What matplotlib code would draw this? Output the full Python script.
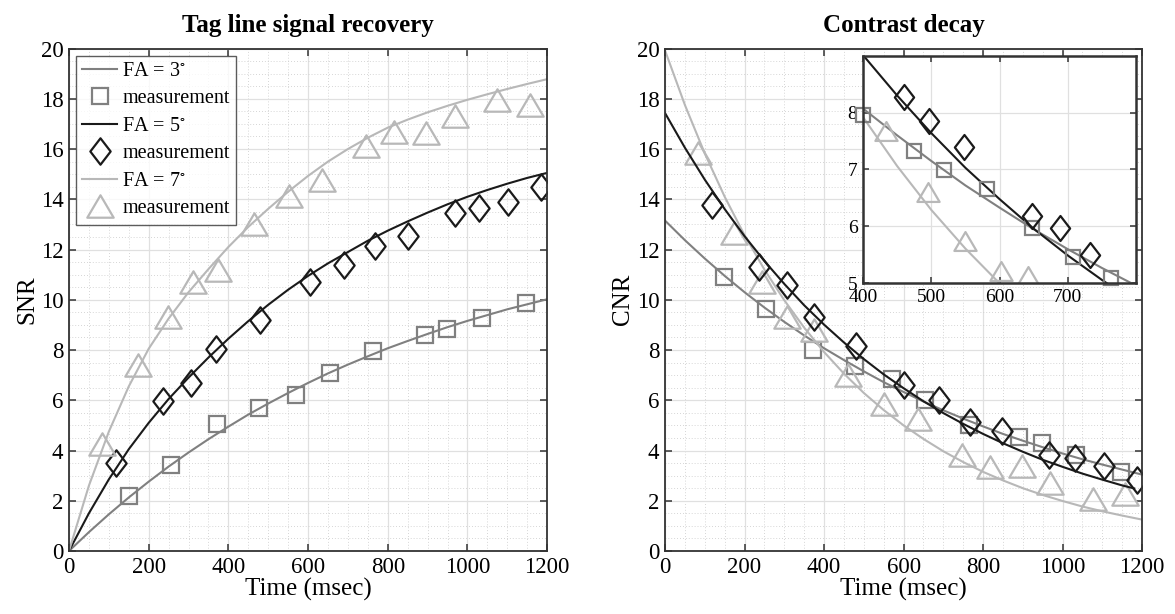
import matplotlib
matplotlib.use("Agg")
import matplotlib.pyplot as plt
from matplotlib.path import Path
from matplotlib.ticker import MultipleLocator

plt.rcParams["font.family"] = ["Liberation Serif", "DejaVu Serif"]
plt.rcParams["mathtext.fontset"] = "stix"

# ---- fitted curves (every 50 msec) ----
t_fit = [0, 50, 100, 150, 200, 250, 300, 350, 400, 450, 500, 550, 600,
         650, 700, 750, 800, 850, 900, 950, 1000, 1050, 1100, 1150, 1200]

snr_fit_fa3 = [0, 0.75, 1.46, 2.13, 2.76, 3.36, 3.92, 4.45, 4.95, 5.43, 5.87, 6.29, 6.69,
               7.07, 7.42, 7.75, 8.07, 8.36, 8.64, 8.91, 9.16, 9.39, 9.62, 9.82, 10.02]
snr_fit_fa5 = [0, 1.5, 2.85, 4.05, 5.1, 6.05, 6.9, 7.7, 8.45, 9.15, 9.8, 10.4, 10.95,
               11.45, 11.9, 12.35, 12.75, 13.12, 13.47, 13.8, 14.1, 14.37, 14.62, 14.85, 15.05]
snr_fit_fa7 = [0, 2.6, 4.75, 6.55, 8.05, 9.25, 10.3, 11.22, 12.1, 12.9, 13.62, 14.3, 14.93,
               15.5, 16.0, 16.45, 16.85, 17.17, 17.46, 17.72, 17.96, 18.18, 18.39, 18.59, 18.78]

cnr_fit_fa3 = [13.15, 12.37, 11.64, 10.95, 10.30, 9.69, 9.12, 8.58, 8.07, 7.60, 7.15, 6.72, 6.33,
               5.95, 5.60, 5.27, 4.96, 4.66, 4.39, 4.13, 3.88, 3.65, 3.44, 3.24, 3.04]
t_fit_fa5 = [0, 50, 100, 150, 200, 250, 300, 350, 400, 450, 500, 550, 600,
             650, 700, 750, 800, 850, 900, 950, 1000, 1050, 1100, 1150, 1180]
cnr_fit_fa5 = [17.43, 16.05, 14.78, 13.61, 12.53, 11.54, 10.63, 9.78, 9.01, 8.30, 7.64, 7.03, 6.48,
               5.96, 5.49, 5.06, 4.66, 4.29, 3.95, 3.63, 3.35, 3.08, 2.84, 2.61, 2.49]
cnr_fit_fa7 = [19.92, 17.75, 15.82, 14.10, 12.57, 11.20, 9.98, 8.89, 7.92, 7.06, 6.29, 5.61, 5.00,
               4.46, 3.97, 3.54, 3.15, 2.81, 2.50, 2.23, 1.99, 1.77, 1.58, 1.41, 1.25]

# ---- measurements, left panel (SNR) ----
snr_t_fa3 = [151, 257, 371, 478, 570, 655, 764, 893, 948, 1037, 1148]
snr_fa3 = [2.17, 3.41, 5.07, 5.71, 6.2, 7.09, 7.97, 8.61, 8.84, 9.29, 9.87]
snr_t_fa5 = [118, 236, 307, 370, 479, 604, 689, 767, 850, 968, 1030, 1102, 1185]
snr_fa5 = [3.5, 5.98, 6.7, 8.03, 9.18, 10.7, 11.4, 12.15, 12.55, 13.47, 13.67, 13.9, 14.48]
snr_t_fa7 = [84, 173, 248, 311, 374, 465, 551, 634, 745, 816, 897, 968, 1075, 1156]
snr_fa7 = [4.27, 7.4, 9.3, 10.7, 11.2, 13.02, 14.13, 14.75, 16.13, 16.68, 16.62, 17.3, 17.97, 17.75]

# ---- measurements, right panel (CNR) ----
cnr_t_fa3 = [149, 255, 371, 477, 570, 653, 764, 891, 948, 1033, 1147]
cnr_fa3 = [10.92, 9.63, 8.0, 7.37, 6.86, 6.0, 5.03, 4.52, 4.28, 3.81, 3.16]
cnr_t_fa5 = [119, 236, 308, 374, 481, 602, 688, 767, 848, 967, 1032, 1104, 1186]
cnr_fa5 = [13.77, 11.3, 10.6, 9.3, 8.15, 6.6, 6.0, 5.13, 4.78, 3.83, 3.69, 3.4, 2.81]
cnr_t_fa7 = [84, 174, 245, 306, 375, 460, 551, 637, 748, 818, 897, 968, 1076, 1156]
cnr_fa7 = [15.85, 12.65, 10.7, 9.3, 8.8, 7.02, 5.85, 5.27, 3.84, 3.33, 3.37, 2.72, 2.05, 2.28]

# ---- inset measurements ----
ins_t_fa3 = [400, 475, 519, 581, 647, 708, 764]
ins_fa3 = [7.96, 7.33, 6.99, 6.65, 5.98, 5.47, 5.09]
ins_t_fa5 = [460, 497, 548, 647, 688, 733]
ins_fa5 = [8.27, 7.85, 7.40, 6.19, 5.97, 5.49]
ins_t_fa7 = [433, 495, 550, 602, 642]
ins_fa7 = [7.68, 6.60, 5.74, 5.22, 5.13]

c3 = "#808080"
c5 = "#1a1a1a"
c7 = "#b8b8b8"
frame = "#333333"

diamond = Path([(0, 1), (0.77, 0), (0, -1), (-0.77, 0), (0, 1)], closed=True)
triangle = Path([(0, 0.85), (1, -0.85), (-1, -0.85), (0, 0.85)], closed=True)


def style_axes(ax, minor=True):
    ax.set_facecolor("white")
    for s in ax.spines.values():
        s.set_color(frame)
        s.set_linewidth(1.3)
    ax.tick_params(which="major", direction="in", top=True, right=True,
                   length=5, width=1.1, color=frame, labelsize=16.5, pad=4)
    ax.tick_params(which="minor", length=0)
    ax.grid(True, which="major", color="#e0e0e0", linewidth=0.9, linestyle="-")
    if minor:
        ax.grid(True, which="minor", color="#c8c8c8", linewidth=0.6, linestyle=(0, (1, 2.5)))
    ax.set_axisbelow(True)


fig = plt.figure(figsize=(11.75, 6.14), dpi=100)
fig.patch.set_facecolor("white")

ax1 = fig.add_axes([0.0587, 0.1026, 0.407, 0.8184])
ax2 = fig.add_axes([0.566, 0.1026, 0.406, 0.8184])

for ax in (ax1, ax2):
    ax.set_xlim(0, 1200)
    ax.set_ylim(0, 20)
    ax.xaxis.set_major_locator(MultipleLocator(200))
    ax.xaxis.set_minor_locator(MultipleLocator(50))
    ax.yaxis.set_major_locator(MultipleLocator(2))
    ax.yaxis.set_minor_locator(MultipleLocator(0.5))
    style_axes(ax)
    ax.set_xlabel("Time (msec)", fontsize=18, labelpad=0)

mk = dict(linestyle="none", markerfacecolor="none")

# left panel
ax1.plot(t_fit, snr_fit_fa3, color=c3, lw=1.5, label="FA = 3$^{\\circ}$")
ax1.plot(snr_t_fa3, snr_fa3, marker="s", ms=11.5, mec=c3, mew=1.6, label="measurement", **mk)
ax1.plot(t_fit, snr_fit_fa5, color=c5, lw=1.5, label="FA = 5$^{\\circ}$")
ax1.plot(snr_t_fa5, snr_fa5, marker=diamond, ms=19, mec=c5, mew=1.6, label="measurement", **mk)
ax1.plot(t_fit, snr_fit_fa7, color=c7, lw=1.5, label="FA = 7$^{\\circ}$")
ax1.plot(snr_t_fa7, snr_fa7, marker=triangle, ms=19, mec=c7, mew=1.6, label="measurement", **mk)
ax1.set_ylabel("SNR", fontsize=18, labelpad=2)
ax1.set_title("Tag line signal recovery", fontsize=18, fontweight="bold", pad=12)
leg = ax1.legend(loc="upper left", fontsize=14.5, frameon=True, fancybox=False,
                 handlelength=1.75, handletextpad=0.25, labelspacing=0.42,
                 borderpad=0.3, borderaxespad=0.35)
leg.get_frame().set_edgecolor(frame)
leg.get_frame().set_linewidth(1.0)

# right panel
ax2.plot(t_fit, cnr_fit_fa3, color=c3, lw=1.5)
ax2.plot(cnr_t_fa3, cnr_fa3, marker="s", ms=11.5, mec=c3, mew=1.6, **mk)
ax2.plot(t_fit, cnr_fit_fa7, color=c7, lw=1.5)
ax2.plot(cnr_t_fa7, cnr_fa7, marker=triangle, ms=19, mec=c7, mew=1.6, **mk)
ax2.plot(t_fit_fa5, cnr_fit_fa5, color=c5, lw=1.5)
ax2.plot(cnr_t_fa5, cnr_fa5, marker=diamond, ms=19, mec=c5, mew=1.6, **mk)
ax2.set_ylabel("CNR", fontsize=18, labelpad=2)
ax2.set_title("Contrast decay", fontsize=18, fontweight="bold", pad=12)

# inset
ax3 = fig.add_axes([0.7345, 0.5386, 0.2323, 0.3707])
ax3.set_xlim(400, 800)
ax3.set_ylim(5, 9)
ax3.set_xticks([400, 500, 600, 700])
ax3.set_yticks([5, 6, 7, 8])
style_axes(ax3, minor=False)
ax3.tick_params(which="major", labelsize=14, pad=4, length=4)
for s in ax3.spines.values():
    s.set_linewidth(1.8)
ax3.plot(t_fit, cnr_fit_fa3, color=c3, lw=1.5)
ax3.plot(t_fit, cnr_fit_fa7, color=c7, lw=1.5)
ax3.plot(t_fit_fa5, cnr_fit_fa5, color=c5, lw=1.5)
ax3.plot(ins_t_fa3, ins_fa3, marker="s", ms=10, mec=c3, mew=1.6, clip_on=False, **mk)
ax3.plot(ins_t_fa7, ins_fa7, marker=triangle, ms=16, mec=c7, mew=1.6, **mk)
ax3.plot(ins_t_fa5, ins_fa5, marker=diamond, ms=18, mec=c5, mew=1.6, **mk)

fig.savefig("out.png", dpi=100, facecolor="white")
